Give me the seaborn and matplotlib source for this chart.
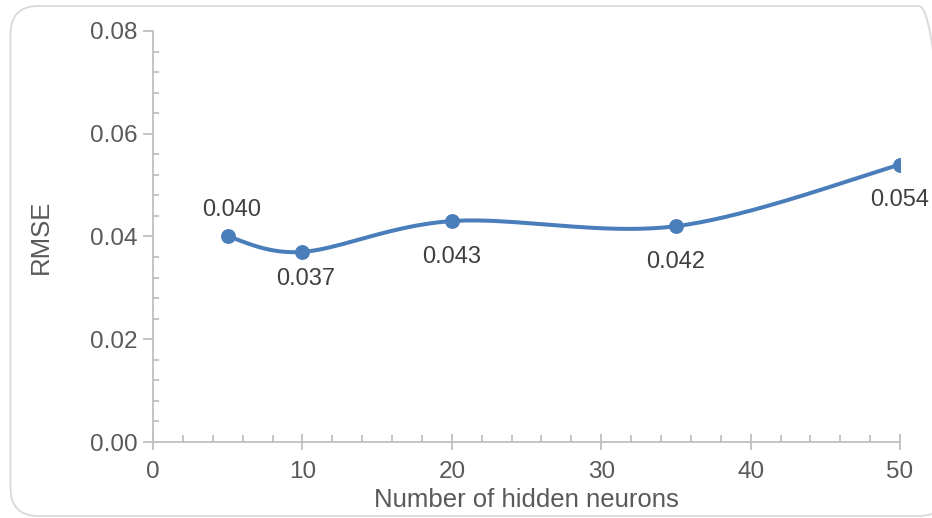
import numpy as np
import pandas as pd
import seaborn as sns
import matplotlib.pyplot as plt
from matplotlib.patches import FancyBboxPatch
from matplotlib.ticker import MultipleLocator, FormatStrFormatter

# Data: RMSE against hidden-layer size
neurons = [5, 10, 20, 35, 50]
rmse = [0.040, 0.037, 0.043, 0.042, 0.054]
value_labels = ["0.040", "0.037", "0.043", "0.042", "0.054"]

# Label centre offsets in pixels (dx, dy), y pointing up
label_offsets = [(4, 29), (3.5, -25), (0, -33.5), (0, -33.5), (0, -32.7)]

LINE = "#4A7EBB"
AXIS = "#BFBFBF"
TEXT = "#595959"
LABEL = "#404040"

LABEL_SIZE = 17
TICK_SIZE = 17.5
TITLE_SIZE = 18.5


def smooth_curve(x, y, steps=40):
    """Catmull-Rom style Bezier smoothing through every point."""
    x = np.asarray(x, float)
    y = np.asarray(y, float)
    px = np.concatenate([[x[0]], x, [x[-1]]])
    py = np.concatenate([[y[0]], y, [y[-1]]])
    xs, ys = [], []
    t = np.linspace(0, 1, steps)
    for i in range(1, len(px) - 2):
        p0 = np.array([px[i], py[i]])
        p3 = np.array([px[i + 1], py[i + 1]])
        c1 = p0 + (np.array([px[i + 1], py[i + 1]]) - np.array([px[i - 1], py[i - 1]])) / 6
        c2 = p3 - (np.array([px[i + 2], py[i + 2]]) - np.array([px[i], py[i]])) / 6
        b = ((1 - t) ** 3)[:, None] * p0 + (3 * (1 - t) ** 2 * t)[:, None] * c1 \
            + (3 * (1 - t) * t ** 2)[:, None] * c2 + (t ** 3)[:, None] * p3
        xs.append(b[:, 0])
        ys.append(b[:, 1])
    return np.concatenate(xs), np.concatenate(ys)


sns.set_theme(style="white")
plt.rcParams["font.family"] = ["Liberation Sans", "DejaVu Sans"]

fig = plt.figure(figsize=(9.32, 5.18), dpi=100)
ax = fig.add_axes([0.1642, 0.1467, 0.8015, 0.7935])

# Rounded chart frame (in inches, so the corners stay circular);
# its right side runs just past the canvas edge
frame = FancyBboxPatch((0.105, 0.02), 9.36, 5.10,
                       boxstyle="round,pad=0,rounding_size=0.28",
                       transform=fig.dpi_scale_trans, facecolor="none",
                       edgecolor="#D9D9D9", linewidth=1.3, zorder=0)
fig.patches.append(frame)

sx, sy = smooth_curve(neurons, rmse)
curve = pd.DataFrame({"neurons": sx, "rmse": sy})
pts = pd.DataFrame({"neurons": neurons, "rmse": rmse})

sns.lineplot(data=curve, x="neurons", y="rmse", ax=ax, color=LINE,
             linewidth=2.9, sort=False, estimator=None)
sns.scatterplot(data=pts, x="neurons", y="rmse", ax=ax, color=LINE,
                s=115, edgecolor=LINE, linewidth=0, zorder=3)

# Value labels, placed by their visual centre (baseline shifted by half cap height)
cap_half = LABEL_SIZE * fig.dpi / 72 * 0.716 / 2
for xv, yv, txt, (dx, dy) in zip(neurons, rmse, value_labels, label_offsets):
    ax.annotate(txt, (xv, yv), xytext=(dx, dy - cap_half),
                textcoords="offset pixels", ha="center", va="baseline",
                fontsize=LABEL_SIZE, color=LABEL)

ax.set_xlim(0, 50)
ax.set_ylim(0, 0.08)
ax.xaxis.set_major_locator(MultipleLocator(10))
ax.xaxis.set_minor_locator(MultipleLocator(2))
ax.yaxis.set_major_locator(MultipleLocator(0.02))
ax.yaxis.set_minor_locator(MultipleLocator(0.004))
ax.yaxis.set_major_formatter(FormatStrFormatter("%.2f"))

for side in ["top", "right"]:
    ax.spines[side].set_visible(False)
for side in ["left", "bottom"]:
    ax.spines[side].set_color(AXIS)
    ax.spines[side].set_linewidth(1.3)

ax.tick_params(axis="y", which="major", direction="out", length=7, width=1.3,
               color=AXIS, labelsize=TICK_SIZE, labelcolor=TEXT, pad=4, left=True)
ax.tick_params(axis="y", which="minor", direction="in", length=4, width=1.3,
               color=AXIS, left=True)
ax.tick_params(axis="x", which="major", direction="inout", length=12, width=1.3,
               color=AXIS, labelsize=TICK_SIZE, labelcolor=TEXT, pad=8, bottom=True)
ax.tick_params(axis="x", which="minor", direction="in", length=5, width=1.3,
               color=AXIS, bottom=True)

ax.set_xlabel("Number of hidden neurons", fontsize=TITLE_SIZE, color=TEXT)
ax.set_ylabel("RMSE", fontsize=TITLE_SIZE, color=TEXT)
ax.yaxis.set_label_coords(-0.134, 0.5)
ax.xaxis.set_label_coords(0.5, -0.113)
ax.grid(False)

fig.savefig("out.png", dpi=100)
